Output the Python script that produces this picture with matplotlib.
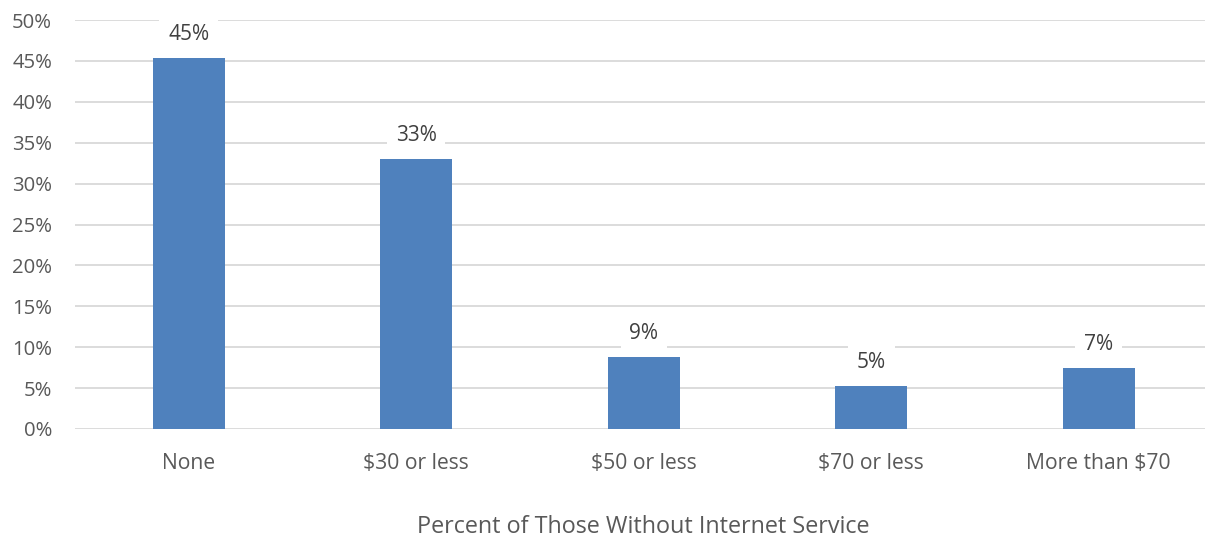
import matplotlib
matplotlib.use("Agg")
import matplotlib.pyplot as plt
from matplotlib.ticker import FuncFormatter, MultipleLocator

plt.rcParams['font.family'] = ['Open Sans', 'DejaVu Sans']

categories = ["None", "$30 or less", "$50 or less", "$70 or less", "More than $70"]
values = [45.4, 33.0, 8.8, 5.2, 7.4]
x_title = "Percent of Those Without Internet Service"

W, H = 1205, 539
fig = plt.figure(figsize=(W / 100, H / 100), dpi=100)
left, right, bottom, top = 75, 1212.5, 539 - 429, 539 - 20
ax = fig.add_axes([left / W, bottom / H, (right - left) / W, (top - bottom) / H])

bar_color = "#4f81bd"
text_color = "#595959"
grid_color = "#d9d9d9"

xs = range(len(categories))
ax.bar(xs, values, width=0.316, color=bar_color, zorder=2)

ax.set_xlim(-0.5, len(categories) - 0.5)
ax.set_ylim(0, 50)
ax.yaxis.set_major_locator(MultipleLocator(5))
ax.yaxis.set_major_formatter(FuncFormatter(lambda v, p: f"{v:.0f}%"))
ax.grid(axis="y", color=grid_color, linewidth=1.3, zorder=0)
ax.set_axisbelow(True)
for s in ax.spines.values():
    s.set_visible(False)
ax.tick_params(axis="both", length=0, labelcolor=text_color)
ax.tick_params(axis="y", pad=16.5, labelsize=14.6)
ax.tick_params(axis="x", pad=17, labelsize=15.2)
ax.set_xticks(list(xs))
ax.set_xticklabels(categories)

for xi, v in zip(xs, values):
    ax.annotate(f"{round(v):.0f}%", (xi, v), xytext=(0, 17), textcoords="offset points",
                ha="center", va="center", fontsize=15, color="#404040", zorder=3,
                bbox=dict(boxstyle="square,pad=0.42", fc="white", ec="none"))

fig.text(643 / W, 1 - 527 / H, x_title, ha="center", va="center",
         fontsize=16.8, color=text_color)

fig.savefig("out.png", dpi=100, facecolor="white")
